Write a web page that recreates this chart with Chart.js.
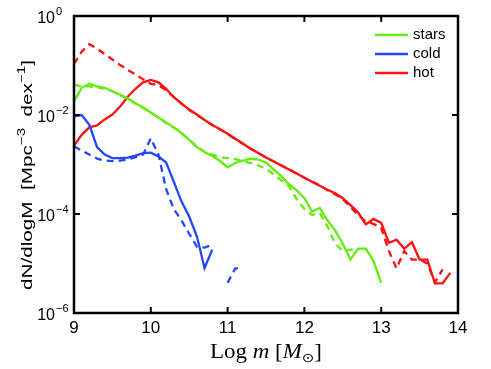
<!DOCTYPE html>
<html>
<head>
<meta charset="utf-8">
<script src="https://cdn.jsdelivr.net/npm/chart.js@4/dist/chart.umd.min.js"></script>
<style>
  html, body { margin: 0; padding: 0; background: #fff; }
  #wrap { width: 491px; height: 369px; }
</style>
</head>
<body>
<div id="wrap"><canvas id="massChart" width="491" height="369"></canvas></div>
<script>
// log10 of mass bins
const logMass = [9.0, 9.1, 9.2, 9.3, 9.4, 9.5, 9.6, 9.7, 9.8, 9.9,
                 10.0, 10.1, 10.2, 10.3, 10.4, 10.5, 10.6, 10.7, 10.8, 10.9,
                 11.0, 11.1, 11.2, 11.3, 11.4, 11.5, 11.6, 11.7, 11.8, 11.9,
                 12.0, 12.1, 12.2, 12.3, 12.4, 12.5, 12.6, 12.7, 12.8, 12.9,
                 13.0, 13.1, 13.2, 13.3, 13.4, 13.5, 13.6, 13.7, 13.8, 13.9];

// log10 dN/dlogM values (null = no data)
const starsSolid  = [-1.73, -1.45, -1.37, -1.42, -1.45, -1.52, -1.59, -1.66, -1.76, -1.85,
                     -1.95, -2.05, -2.15, -2.25, -2.36, -2.50, -2.65, -2.75, -2.83, -2.93,
                     -3.06, -2.97, -2.92, -2.88, -2.90, -2.96, -3.10, -3.24, -3.40, -3.52,
                     -3.68, -3.95, -3.88, -4.13, -4.33, -4.60, -4.92, -4.70, -4.70, -4.95,
                     -5.39];
const starsDashed = [-1.39, -1.42, -1.42, -1.44, -1.47, -1.52, -1.60, -1.68, -1.77, -1.86,
                     -1.95, -2.06, -2.16, -2.26, -2.37, -2.50, -2.64, -2.74, -2.80, -2.85,
                     -2.87, -2.89, -2.93, -2.97, -3.02, -3.09, -3.20, -3.32, -3.44, -3.70,
                     -3.90, -4.02, -3.98, -4.25, -4.60, -4.75, -4.72, -4.70];
const coldSolid   = [-2.03, -2.00, -2.20, -2.65, -2.80, -2.87, -2.87, -2.86, -2.82, -2.77,
                     -2.76, -2.84, -2.96, -3.35, -3.75, -4.05, -4.45, -5.09, -4.72];
const coldDashed  = [-2.63, -2.72, -2.80, -2.88, -2.92, -2.93, -2.92, -2.90, -2.85, -2.80,
                     -2.47, -2.80, -3.50, -3.90, -4.13, -4.40, -4.66, -4.68, -4.62, null,
                     -5.39, -5.10, -5.09];
const hotSolid    = [-2.62, -2.40, -2.25, -2.21, -2.09, -1.99, -1.83, -1.63, -1.47, -1.34,
                     -1.29, -1.34, -1.47, -1.64, -1.77, -1.89, -1.99, -2.10, -2.20, -2.29,
                     -2.38, -2.48, -2.58, -2.68, -2.77, -2.86, -2.94, -3.02, -3.10, -3.18,
                     -3.27, -3.35, -3.43, -3.51, -3.58, -3.68, -3.82, -3.97, -4.21, -4.10,
                     -4.18, -4.58, -4.52, -4.70, -4.57, -4.92, -4.92, -5.40, -5.40, -5.19];
const hotDashed   = [-0.97, -0.72, -0.57, -0.66, -0.77, -0.88, -0.99, -1.09, -1.18, -1.28,
                     -1.37, -1.40, -1.50, -1.64, -1.77, -1.90, -2.00, -2.10, -2.20, -2.29,
                     -2.38, -2.49, -2.58, -2.68, -2.77, -2.86, -2.94, -3.02, -3.10, -3.18,
                     -3.27, -3.35, -3.42, -3.52, -3.60, -3.70, -3.86, -4.02, -4.15, -4.20,
                     -4.28, -4.75, -5.10, -4.75, -4.92, -4.92, -5.00, -5.38, -5.12];

const xTicks = [9, 10, 11, 12, 13, 14];
const yTicks = [1e-6, 1e-4, 1e-2, 1];
const yExponents = ['\u22126', '\u22124', '\u22122', '0'];

const GREEN = '#62ee0c', BLUE = '#2446ff', RED = '#ff1010';
const SANS = '"Liberation Sans", Arial, sans-serif';
const SERIF = '"Liberation Serif", "Times New Roman", serif';

function pts(vals) {
    return vals.map((v, i) => ({x: logMass[i], y: v === null ? null : Math.pow(10, v)}));
}

function line(label, vals, color, dashed) {
    return {
        label: label,
        data: pts(vals),
        borderColor: color,
        backgroundColor: color,
        borderWidth: 2.3,
        borderDash: dashed ? [7, 5] : [],
        pointRadius: 0,
        tension: 0,
        spanGaps: false,
        legendShow: !dashed
    };
}

// draw a row of [text, font, raise] pieces, stretched to a given total length
function drawPieces(ctx, parts, cx, y, length) {
    let total = 0;
    parts.forEach(p => { ctx.font = p[1]; total += ctx.measureText(p[0]).width; });
    ctx.save();
    ctx.translate(cx, y);
    ctx.scale(length / total, 1);
    let x = -total / 2;
    parts.forEach(p => {
        ctx.font = p[1];
        ctx.fillText(p[0], x, -p[2]);
        x += ctx.measureText(p[0]).width;
    });
    ctx.restore();
}

// inward ticks, box, tick labels, legend and titles in MATLAB style
const frame = {
    id: 'frame',
    afterDraw(chart) {
        const ctx = chart.ctx, a = chart.chartArea;
        const xs = chart.scales.x, ys = chart.scales.y;
        ctx.save();
        ctx.strokeStyle = '#000';
        ctx.fillStyle = '#000';
        ctx.lineWidth = 2;
        ctx.setLineDash([]);
        ctx.beginPath();
        xTicks.forEach(v => {
            const px = xs.getPixelForValue(v);
            ctx.moveTo(px, a.bottom); ctx.lineTo(px, a.bottom - 6);
            ctx.moveTo(px, a.top); ctx.lineTo(px, a.top + 6);
        });
        yTicks.forEach(v => {
            const py = ys.getPixelForValue(v);
            ctx.moveTo(a.left, py); ctx.lineTo(a.left + 6, py);
            ctx.moveTo(a.right, py); ctx.lineTo(a.right - 6, py);
        });
        ctx.stroke();
        ctx.lineWidth = 2.5;
        ctx.strokeRect(a.left, a.top, a.right - a.left, a.bottom - a.top);

        // y tick labels 10^n
        yTicks.forEach((v, i) => {
            const py = ys.getPixelForValue(v);
            ctx.font = '16px ' + SANS;
            ctx.textAlign = 'right';
            ctx.textBaseline = 'middle';
            ctx.fillText('10', a.left - 19, py + 3);
            ctx.font = '11px ' + SANS;
            ctx.textAlign = 'left';
            ctx.textBaseline = 'alphabetic';
            ctx.fillText(yExponents[i], a.left - 18, py - 1);
        });

        // legend
        ctx.font = '15px ' + SANS;
        ctx.textAlign = 'left';
        ctx.textBaseline = 'middle';
        ctx.lineWidth = 2.3;
        let row = 0;
        chart.data.datasets.forEach(ds => {
            if (!ds.legendShow) return;
            const y = a.top + 19 + row * 19;
            ctx.strokeStyle = ds.borderColor;
            ctx.beginPath();
            ctx.moveTo(a.right - 83, y); ctx.lineTo(a.right - 50, y);
            ctx.stroke();
            ctx.fillText(ds.label, a.right - 45, y);
            row++;
        });

        // x axis title: Log m [M_sun]
        ctx.textBaseline = 'alphabetic';
        drawPieces(ctx, [
            ['Log ', '20px ' + SERIF, 0],
            ['m', 'italic 20px ' + SERIF, 0],
            [' [', '20px ' + SERIF, 0],
            ['M', 'italic 20px ' + SERIF, 0],
            ['\u2299', '13px "DejaVu Sans", serif', -4],
            [']', '20px ' + SERIF, 0]
        ], (a.left + a.right) / 2, 358, 112);

        // y axis title
        ctx.save();
        ctx.translate(32, 175);
        ctx.rotate(-Math.PI / 2);
        drawPieces(ctx, [
            ['dN/dlogM  [Mpc', '15px ' + SANS, 0],
            ['\u22123', '11px ' + SANS, 7],
            ['  dex', '15px ' + SANS, 0],
            ['\u22121', '11px ' + SANS, 7],
            [']', '15px ' + SANS, 0]
        ], 0, 0, 230);
        ctx.restore();
        ctx.restore();
    }
};

new Chart(document.getElementById('massChart').getContext('2d'), {
    type: 'line',
    data: {
        datasets: [
            line('stars', starsSolid, GREEN, false),
            line('stars dashed', starsDashed, GREEN, true),
            line('cold', coldSolid, BLUE, false),
            line('cold dashed', coldDashed, BLUE, true),
            line('hot', hotSolid, RED, false),
            line('hot dashed', hotDashed, RED, true)
        ]
    },
    options: {
        responsive: false,
        animation: false,
        layout: { padding: { top: 16, right: 33, left: 0, bottom: 0 } },
        plugins: { legend: { display: false }, tooltip: { enabled: false } },
        scales: {
            x: {
                type: 'linear',
                min: 9, max: 14,
                grid: { display: false, drawTicks: false },
                border: { display: false },
                afterBuildTicks: s => { s.ticks = xTicks.map(v => ({value: v})); },
                afterFit: s => { s.height = 56; },
                ticks: {
                    color: '#000',
                    padding: 5,
                    maxRotation: 0,
                    font: { family: SANS, size: 17 }
                }
            },
            y: {
                type: 'logarithmic',
                min: 1e-6, max: 1,
                grid: { display: false, drawTicks: false },
                border: { display: false },
                afterBuildTicks: s => { s.ticks = yTicks.map(v => ({value: v})); },
                afterFit: s => { s.width = 74; },
                ticks: { display: false }
            }
        }
    },
    plugins: [frame]
});
</script>
</body>
</html>
